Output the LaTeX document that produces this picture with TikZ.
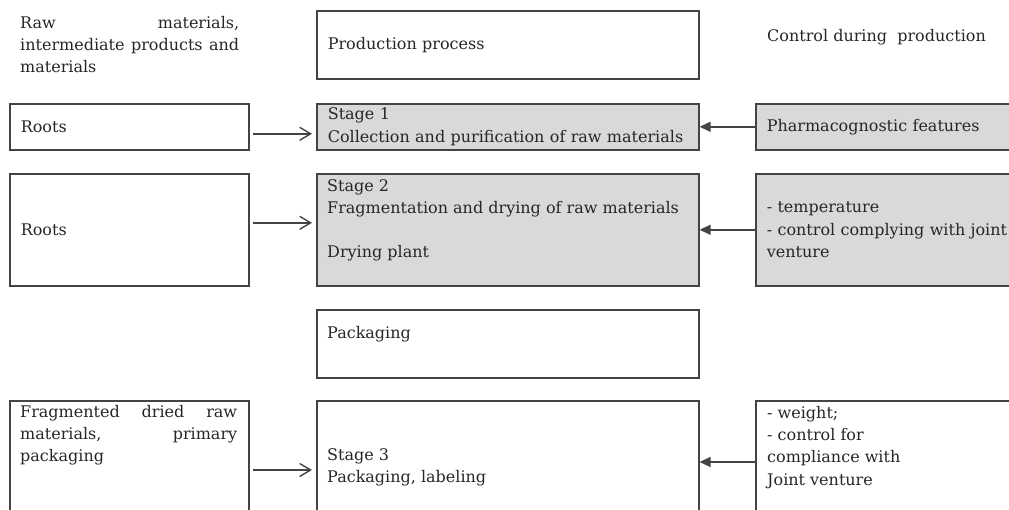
\documentclass[tikz,border=0pt]{standalone}
\usepackage{fontspec}
\setmainfont{DejaVu Serif}
\usepackage{xcolor}
\usetikzlibrary{arrows.meta, positioning}
\definecolor{edgegray}{HTML}{444444}
\definecolor{stagegray}{HTML}{D9D9D9}
\definecolor{inkgray}{HTML}{262626}
\newcommand{\chartfont}{\fontsize{16}{22.3}\selectfont}
\tikzstyle{box} = [rectangle, draw=edgegray, line width=1.6pt, anchor=north west, inner xsep=11pt, inner ysep=0pt, align=left, text=inkgray, font=\chartfont]
\tikzstyle{shaded} = [box, fill=stagegray]
\tikzstyle{note} = [anchor=north west, inner sep=0pt, align=left, text=inkgray, font=\chartfont]
\tikzstyle{feed} = [line width=1.4pt, draw=edgegray, -{Straight Barb[length=11pt,width=13pt,line width=1.4pt]}, shorten <=3pt, shorten >=4pt]
\tikzstyle{check} = [line width=1.4pt, draw=edgegray, -{Triangle[length=11pt,width=10pt]}]
\begin{document}
\begin{tikzpicture}[x=1pt,y=-1pt]
\useasboundingbox (0,0) rectangle (1009,509);
\clip (0,0) rectangle (1009,509);

% headings
\node (hdrin) [note, text width=219pt, align=justify] at (20,16) {Raw materials,\linebreak intermediate products and\linebreak materials};
\node (prod) [box, text width=360pt, minimum height=68pt] at (316,10) {Production process};
\node (hdrctrl) [note, anchor=base west] at (767,41) {Control during\ \ production};

% stage 1
\node (root1) [box, text width=217pt, minimum height=46pt] at (9,103) {Roots};
\node (stage1) [shaded, text width=360pt, minimum height=46pt] at (316,103) {Stage 1\\Collection and purification of raw materials};
\node (ctrl1) [shaded, text width=280pt, minimum height=46pt] at (755,103) {Pharmacognostic features};

% stage 2
\node (root2) [box, text width=217pt, minimum height=112pt] at (9,173) {Roots};
\node (stage2) [shaded, minimum width=382pt, minimum height=112pt] at (316,173) {};
\node (stage2txt) [note, below right=6pt and 11pt of stage2.north west, anchor=north west] {Stage 2\\Fragmentation and drying of raw materials\\[22pt]Drying plant};
\node (ctrl2) [shaded, text width=280pt, minimum height=112pt] at (755,173) {- temperature\\- control complying with joint\\venture};

% packaging
\node (pack) [box, minimum width=382pt, minimum height=68pt] at (316,309) {};
\node (packtxt) [note, anchor=base west] at ([xshift=11pt,yshift=-29pt]pack.north west) {Packaging};

% stage 3
\node (frag) [box, minimum width=239pt, minimum height=150pt] at (9,400) {};
\node (fragtxt) [note, text width=217pt, align=justify, anchor=north west] at ([xshift=11pt,yshift=-5pt]frag.north west) {Fragmented dried raw\linebreak materials, primary\linebreak packaging};
\node (stage3) [box, minimum width=382pt, minimum height=150pt] at (316,400) {};
\node (stage3txt) [note, anchor=north west] at ([xshift=11pt,yshift=-48pt]stage3.north west) {Stage 3\\Packaging, labeling};
\node (ctrl3) [box, minimum width=302pt, minimum height=150pt] at (755,400) {};
\node (ctrl3txt) [note, anchor=north west] at ([xshift=12pt,yshift=-6pt]ctrl3.north west) {- weight;\\- control for\\compliance with\\Joint venture};

% connectors
\draw [feed] ([yshift=-7pt]root1.east) -- ([yshift=-7pt]stage1.west);
\draw [feed] ([yshift=7pt]root2.east) -- ([yshift=7pt]stage2.west);
\draw [feed] ([yshift=-70pt]frag.north east) -- ([yshift=-70pt]stage3.north west);
\draw [check] (ctrl1.west) -- (stage1.east);
\draw [check] (ctrl2.west) -- (stage2.east);
\draw [check] ([yshift=-62pt]ctrl3.north west) -- ([yshift=-62pt]stage3.north east);
\end{tikzpicture}
\end{document}
